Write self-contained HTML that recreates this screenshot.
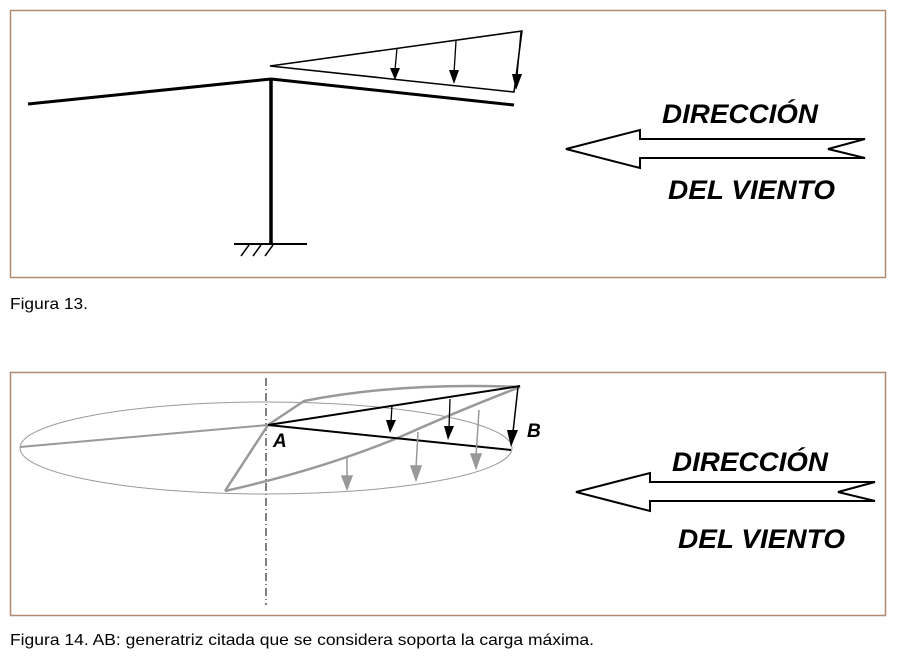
<!DOCTYPE html>
<html><head><meta charset="utf-8"><style>
body{margin:0;background:#fff;}
svg{display:block}
</style></head><body>
<svg width="899" height="656" viewBox="0 0 899 656" xmlns="http://www.w3.org/2000/svg">
<rect x="10.5" y="10.5" width="875" height="267" fill="none" stroke="#b08a72" stroke-width="1.5"/>
<rect x="10.5" y="372.5" width="875" height="243" fill="none" stroke="#b08a72" stroke-width="1.5"/>
<!-- Fig 13 -->
<line x1="28" y1="104" x2="271" y2="79" stroke="#000" stroke-width="3"/>
<line x1="271" y1="79" x2="514" y2="105" stroke="#000" stroke-width="3"/>
<line x1="271" y1="79" x2="271" y2="244" stroke="#000" stroke-width="3.5"/>
<line x1="234" y1="244" x2="307" y2="244" stroke="#000" stroke-width="2"/>
<path d="M241,256 L249,245 M253,256 L261,245 M265,256 L273,245" stroke="#000" stroke-width="1.5"/>
<polygon points="270,66 522,31 514,92" fill="none" stroke="#000" stroke-width="1.5"/>
<path d="M397,48 L395,70" stroke="#000" stroke-width="1.3"/><path d="M390,68 L400,68 L395,80 z"/>
<path d="M456,41 L454,73" stroke="#000" stroke-width="1.3"/><path d="M449,70 L459,70 L454,84 z"/>
<path d="M521,31 L517,76" stroke="#000" stroke-width="1.3"/><path d="M512,74 L522,74 L516,90 z"/>
<polygon points="566,149 640,130 640,139 865,139 828,149 865,158 640,158 640,168" fill="none" stroke="#000" stroke-width="2"/>
<text x="662" y="123" font-family="Liberation Sans, sans-serif" font-weight="bold" font-style="italic" font-size="27" textLength="156" lengthAdjust="spacingAndGlyphs">DIRECCIÓN</text>
<text x="668" y="199" font-family="Liberation Sans, sans-serif" font-weight="bold" font-style="italic" font-size="27" textLength="167" lengthAdjust="spacingAndGlyphs">DEL VIENTO</text>
<text x="10" y="309" font-family="Liberation Sans, sans-serif" font-size="16" textLength="78" lengthAdjust="spacingAndGlyphs">Figura 13.</text>
<!-- Fig 14 -->
<line x1="266" y1="378" x2="266" y2="605" stroke="#000" stroke-width="1" stroke-dasharray="8,3,1,3"/>
<ellipse cx="266" cy="448" rx="246" ry="46" fill="none" stroke="#999" stroke-width="1"/>
<line x1="20" y1="447" x2="268" y2="425" stroke="#999" stroke-width="2"/>
<path d="M225,491 L268,425 L304,401 Q400,382 520,387 Q460,410 400,437 Q320,470 225,491" fill="none" stroke="#999" stroke-width="2.5"/>
<line x1="268" y1="425" x2="520" y2="386" stroke="#000" stroke-width="2"/>
<line x1="268" y1="425" x2="511" y2="450" stroke="#000" stroke-width="2"/>
<path d="M392,405 L391,422" stroke="#000" stroke-width="1.3"/><path d="M386,420 L396,420 L390,433 z"/>
<path d="M450,399 L449,428" stroke="#000" stroke-width="1.3"/><path d="M444,426 L454,426 L448,440 z"/>
<path d="M518,387 L513,432" stroke="#000" stroke-width="1.5"/><path d="M507,430 L518,430 L511,447 z"/>
<g stroke="#999" stroke-width="1.5" fill="#999">
<path d="M347,458 L347,478" fill="none"/><path d="M342,476 L352,476 L347,489 z"/>
<path d="M418,432 L416,468" fill="none"/><path d="M411,466 L421,466 L416,480 z"/>
<path d="M479,410 L476,456" fill="none"/><path d="M471,454 L481,454 L476,468 z"/>
</g>
<text x="273" y="447" font-family="Liberation Sans, sans-serif" font-weight="bold" font-style="italic" font-size="19">A</text>
<text x="527" y="437" font-family="Liberation Sans, sans-serif" font-weight="bold" font-style="italic" font-size="19">B</text>
<polygon points="576,492 650,473 650,482 875,482 838,492 875,501 650,501 650,511" fill="none" stroke="#000" stroke-width="2"/>
<text x="672" y="471" font-family="Liberation Sans, sans-serif" font-weight="bold" font-style="italic" font-size="27" textLength="156" lengthAdjust="spacingAndGlyphs">DIRECCIÓN</text>
<text x="678" y="548" font-family="Liberation Sans, sans-serif" font-weight="bold" font-style="italic" font-size="27" textLength="167" lengthAdjust="spacingAndGlyphs">DEL VIENTO</text>
<text x="10" y="645" font-family="Liberation Sans, sans-serif" font-size="16" textLength="584" lengthAdjust="spacingAndGlyphs">Figura 14. AB: generatriz citada que se considera soporta la carga máxima.</text>
</svg>
</body></html>
